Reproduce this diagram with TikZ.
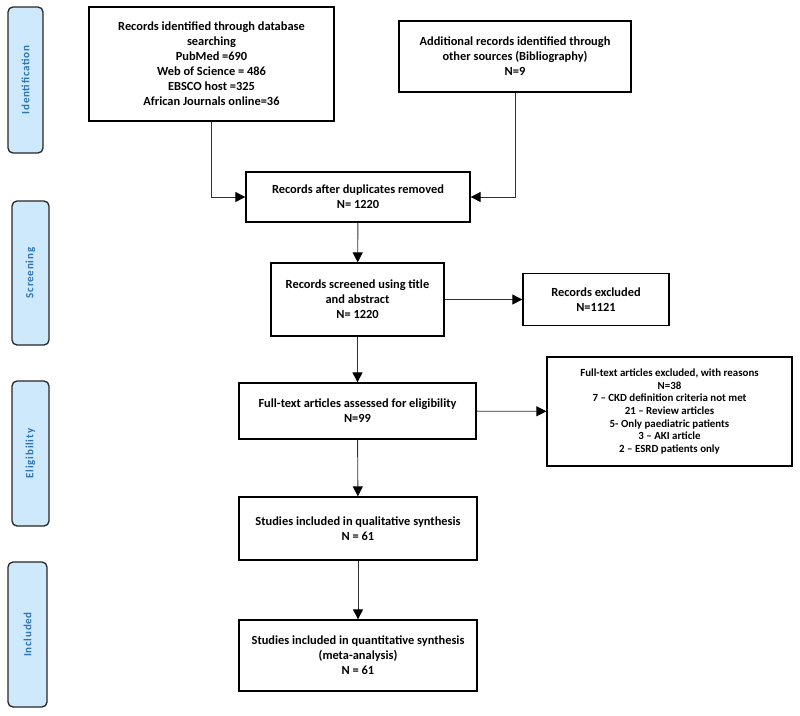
\documentclass[tikz,border=0pt]{standalone}
\usepackage{fontspec}
\setmainfont{Carlito}
\newfontfamily\sidefont[LetterSpace=7]{Carlito}
\usetikzlibrary{arrows.meta}
\definecolor{sidefill}{RGB}{205,233,251}
\definecolor{sidetext}{RGB}{46,117,182}
\definecolor{linegray}{RGB}{50,50,50}
\tikzset{
  box/.style={draw=black, line width=1.3pt, fill=white, align=center, font=\bfseries\fontsize{12.4}{15}\selectfont, inner sep=2pt},
  smallbox/.style={box, font=\bfseries\fontsize{10.9}{12.7}\selectfont},
  side/.style={draw=black!85, line width=1.3pt, fill=sidefill, rounded corners=5pt, text=sidetext, font=\sidefont\bfseries\fontsize{11}{13}\selectfont, inner sep=0pt},
  conn/.style={draw=linegray, line width=0.9pt, -{Triangle[length=10pt,width=10pt,color=black]}},
}
\begin{document}
\begin{tikzpicture}[x=1pt,y=-1pt]
\useasboundingbox (0,0) rectangle (800,715);
% side labels
\node[side, minimum width=35pt, minimum height=146pt] (s1) at (25.5,80) {\rotatebox{90}{Identification}};
\node[side, minimum width=37pt, minimum height=144pt] (s2) at (30.5,273) {\rotatebox{90}{Screening}};
\node[side, minimum width=37pt, minimum height=145pt] (s3) at (30.5,453.5) {\rotatebox{90}{Eligibility}};
\node[side, minimum width=39pt, minimum height=145pt] (s4) at (27.5,634.5) {\rotatebox{90}{Included}};
% boxes
\node[box, minimum width=245pt, minimum height=114pt] (A) at (211.5,64) {Records identified through database\\searching\\PubMed =690\\Web of Science = 486\\EBSCO host =325\\African Journals online=36};
\node[box, minimum width=232pt, minimum height=71pt] (B) at (515,56.5) {Additional records identified through\\other sources (Bibliography)\\N=9};
\node[box, minimum width=224pt, minimum height=50pt] (C) at (358,197) {Records after duplicates removed\\N= 1220};
\node[box, minimum width=173pt, minimum height=73pt] (D) at (357.5,299.5) {Records screened using title\\and abstract\\N= 1220};
\node[box, minimum width=146pt, minimum height=52pt] (E) at (596,299.5) {Records excluded\\N=1121};
\node[box, minimum width=237pt, minimum height=56pt] (F) at (357.5,411) {Full-text articles assessed for eligibility\\N=99};
\node[smallbox, minimum width=245pt, minimum height=109pt] (G) at (669.5,411.5) {Full-text articles excluded, with reasons\\N=38\\7 -- CKD definition criteria not met\\21 -- Review articles\\5- Only paediatric patients\\3 -- AKI article\\2 -- ESRD patients only};
\node[box, minimum width=238pt, minimum height=63pt] (H) at (358,528.5) {Studies included in qualitative synthesis\\N = 61};
\node[box, minimum width=238pt, minimum height=71pt] (I) at (358,655.5) {Studies included in quantitative synthesis\\(meta-analysis)\\N = 61};
% connectors
\draw[conn] (A.south) |- (C.west);
\draw[conn] (B.south) |- (C.east);
\draw[conn] (C) -- (D);
\draw[conn] (D) -- (E);
\draw[conn] (D) -- (F);
\draw[conn] (F) -- (G);
\draw[conn] (F) -- (H);
\draw[conn] (H) -- (I);
\end{tikzpicture}
\end{document}
